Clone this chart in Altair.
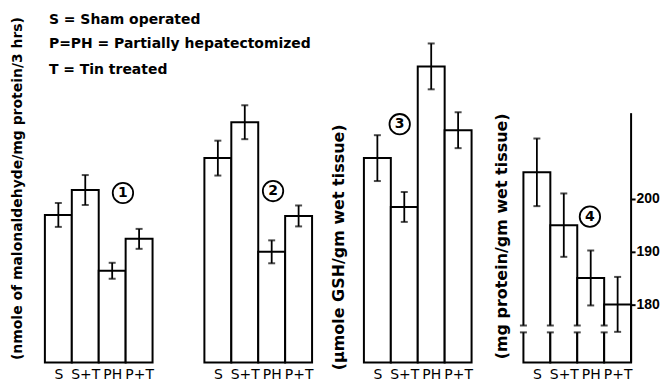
import json
import altair as alt
import pandas as pd

# ---------------- data ----------------
groups = ["S", "S+T", "PH", "P+T"]

p1_values = [1.48, 1.73, 0.92, 1.24]      # nmole malonaldehyde / mg protein / 3 hrs
p1_errors = [0.12, 0.15, 0.08, 0.10]
p2_values = [2.05, 2.41, 1.11, 1.47]
p2_errors = [0.175, 0.17, 0.115, 0.105]
p3_values = [2.05, 1.56, 2.97, 2.33]      # umole GSH / gm wet tissue
p3_errors = [0.23, 0.15, 0.23, 0.18]
p4_values = [205, 195, 185, 180]          # mg protein / gm wet tissue
p4_errors = [6.4, 6.0, 5.2, 5.2]
p4_ticks = [180, 190, 200]
p4_axis_top = 216.2
p4_break = [174.7, 176.0]

panel_tags = ["1", "2", "3", "4"]
tag_x = [2.9, 2.55, 1.33, 2.47]
tag_y = [1.70, 1.72, 2.39, 196.6]

legend_lines = ["S = Sham operated", "P=PH = Partially hepatectomized", "T = Tin treated"]
legend_y = [3.44, 3.19, 2.93]

titles = ["(nmole of malonaldehyde/mg protein/3 hrs)", "",
          "(\u00b5mole GSH/gm wet tissue)", "(mg protein/gm wet tissue)"]

# ---------------- styling ----------------
FONT = "DejaVu Sans"
W, H = 108, 355
DOM_A = [0, 3.55]
DOM_B = [169, 236]


def frame(values, errors):
    n = len(values)
    return pd.DataFrame({
        "group": groups,
        "x0": list(range(n)),
        "x1": [i + 1 for i in range(n)],
        "xc": [i + 0.5 for i in range(n)],
        "value": values,
        "lo": [v - e for v, e in zip(values, errors)],
        "hi": [v + e for v, e in zip(values, errors)],
    })


def panel(idx, values, errors, domain, title, title_pad, title_y, title_size):
    df = frame(values, errors)
    xs = alt.Scale(domain=[0, 4], nice=False, zero=False)
    ys = alt.Scale(domain=domain, nice=False, zero=False)
    xaxis = alt.Axis(values=[0.5, 1.5, 2.5, 3.5],
                     labelExpr=json.dumps(groups) + "[floor(datum.value)]",
                     title=None, domain=False, ticks=False, grid=False,
                     labelFont=FONT, labelFontSize=14, labelColor="black",
                     labelPadding=5, labelOverlap=False, labelFlush=False)
    if title:
        yaxis = alt.Axis(title=title, domain=False, ticks=False, labels=False,
                         grid=False, titleFont=FONT, titleFontSize=title_size,
                         titleFontWeight="bold", titleColor="black",
                         titlePadding=title_pad, titleY=title_y)
    else:
        yaxis = None

    def X(f):
        return alt.X(f, scale=xs, axis=xaxis)

    def Y(f):
        return alt.Y(f, scale=ys, axis=yaxis)

    base = alt.Chart(df)
    layers = [
        base.mark_rect(fill="white", stroke="black", strokeWidth=2).encode(
            x=X("x0:Q"), x2="x1", y=Y("value:Q"), y2=alt.datum(domain[0])),
    ]
    if idx == 3:
        brk = pd.DataFrame({"xe": [0, 1, 2, 3], "b0": p4_break[0], "b1": p4_break[1]})
        layers.append(alt.Chart(brk).mark_rule(color="white", strokeWidth=6).encode(
            x=X("xe:Q"), y=Y("b0:Q"), y2="b1"))
        layers.append(alt.Chart(brk).transform_fold(["b0", "b1"], as_=["k", "pos"]).mark_tick(
            orient="horizontal", size=7, thickness=2, color="black").encode(
            x=X("xe:Q"), y=Y("pos:Q")))
    layers += [
        base.mark_rule(color="black", strokeWidth=1.8).encode(
            x=X("xc:Q"), y=Y("lo:Q"), y2="hi"),
        base.transform_fold(["lo", "hi"], as_=["k", "pos"]).mark_tick(
            orient="horizontal", size=7, thickness=2, color="black").encode(
            x=X("xc:Q"), y=Y("pos:Q")),
    ]
    tag = pd.DataFrame({"x": [tag_x[idx]], "y": [tag_y[idx]], "t": [panel_tags[idx]]})
    layers += [
        alt.Chart(tag).mark_point(shape="circle", size=420, filled=False, color="black",
                                  strokeWidth=1.8, opacity=1).encode(x=X("x:Q"), y=Y("y:Q")),
        alt.Chart(tag).mark_text(font=FONT, fontSize=14, fontWeight="bold", color="black").encode(
            x=X("x:Q"), y=Y("y:Q"), text="t:N"),
    ]
    if idx == 0:
        leg = pd.DataFrame({"x": [0.15] * 3, "y": legend_y, "t": legend_lines})
        layers.append(alt.Chart(leg).mark_text(font=FONT, fontSize=14, fontWeight="bold",
                                               color="black",
                                               align="left", baseline="middle").encode(
            x=X("x:Q"), y=Y("y:Q"), text="t:N"))
    inner = alt.layer(*layers)
    if idx == 3:
        raxis = alt.Axis(orient="right", values=p4_ticks, domain=False, ticks=True,
                         tickSize=4, tickWidth=2, tickColor="black", labels=True,
                         labelFont="Liberation Sans", labelFontSize=14,
                         labelFontWeight="bold", labelColor="black",
                         labelPadding=1, title=None, grid=False)
        ax = pd.DataFrame({"x": [4], "y0": [domain[0]], "y1": [p4_axis_top]})
        axis_layer = alt.Chart(ax).mark_rule(color="black", strokeWidth=2).encode(
            x=X("x:Q"), y=alt.Y("y0:Q", scale=ys, axis=raxis), y2="y1")
        return alt.layer(inner, axis_layer).resolve_axis(y="independent").properties(
            width=W, height=H)
    return inner.properties(width=W, height=H)


p1 = panel(0, p1_values, p1_errors, DOM_A, titles[0], 20, 180, 14)
p2 = panel(1, p2_values, p2_errors, DOM_A, titles[1], 0, 0, 14)
p3 = panel(2, p3_values, p3_errors, DOM_A, titles[2], 17, 239, 16)
p4 = panel(3, p4_values, p4_errors, DOM_B, titles[3], 14, 228, 16)

chart = alt.hconcat(p1, p2, p3, p4, spacing=52, bounds="flush").properties(
    padding={"left": 3, "top": 0, "right": 0, "bottom": 0},
    background="white",
).configure_view(stroke=None)

chart.save("out.html", embed_options={"renderer": "svg", "actions": False})
